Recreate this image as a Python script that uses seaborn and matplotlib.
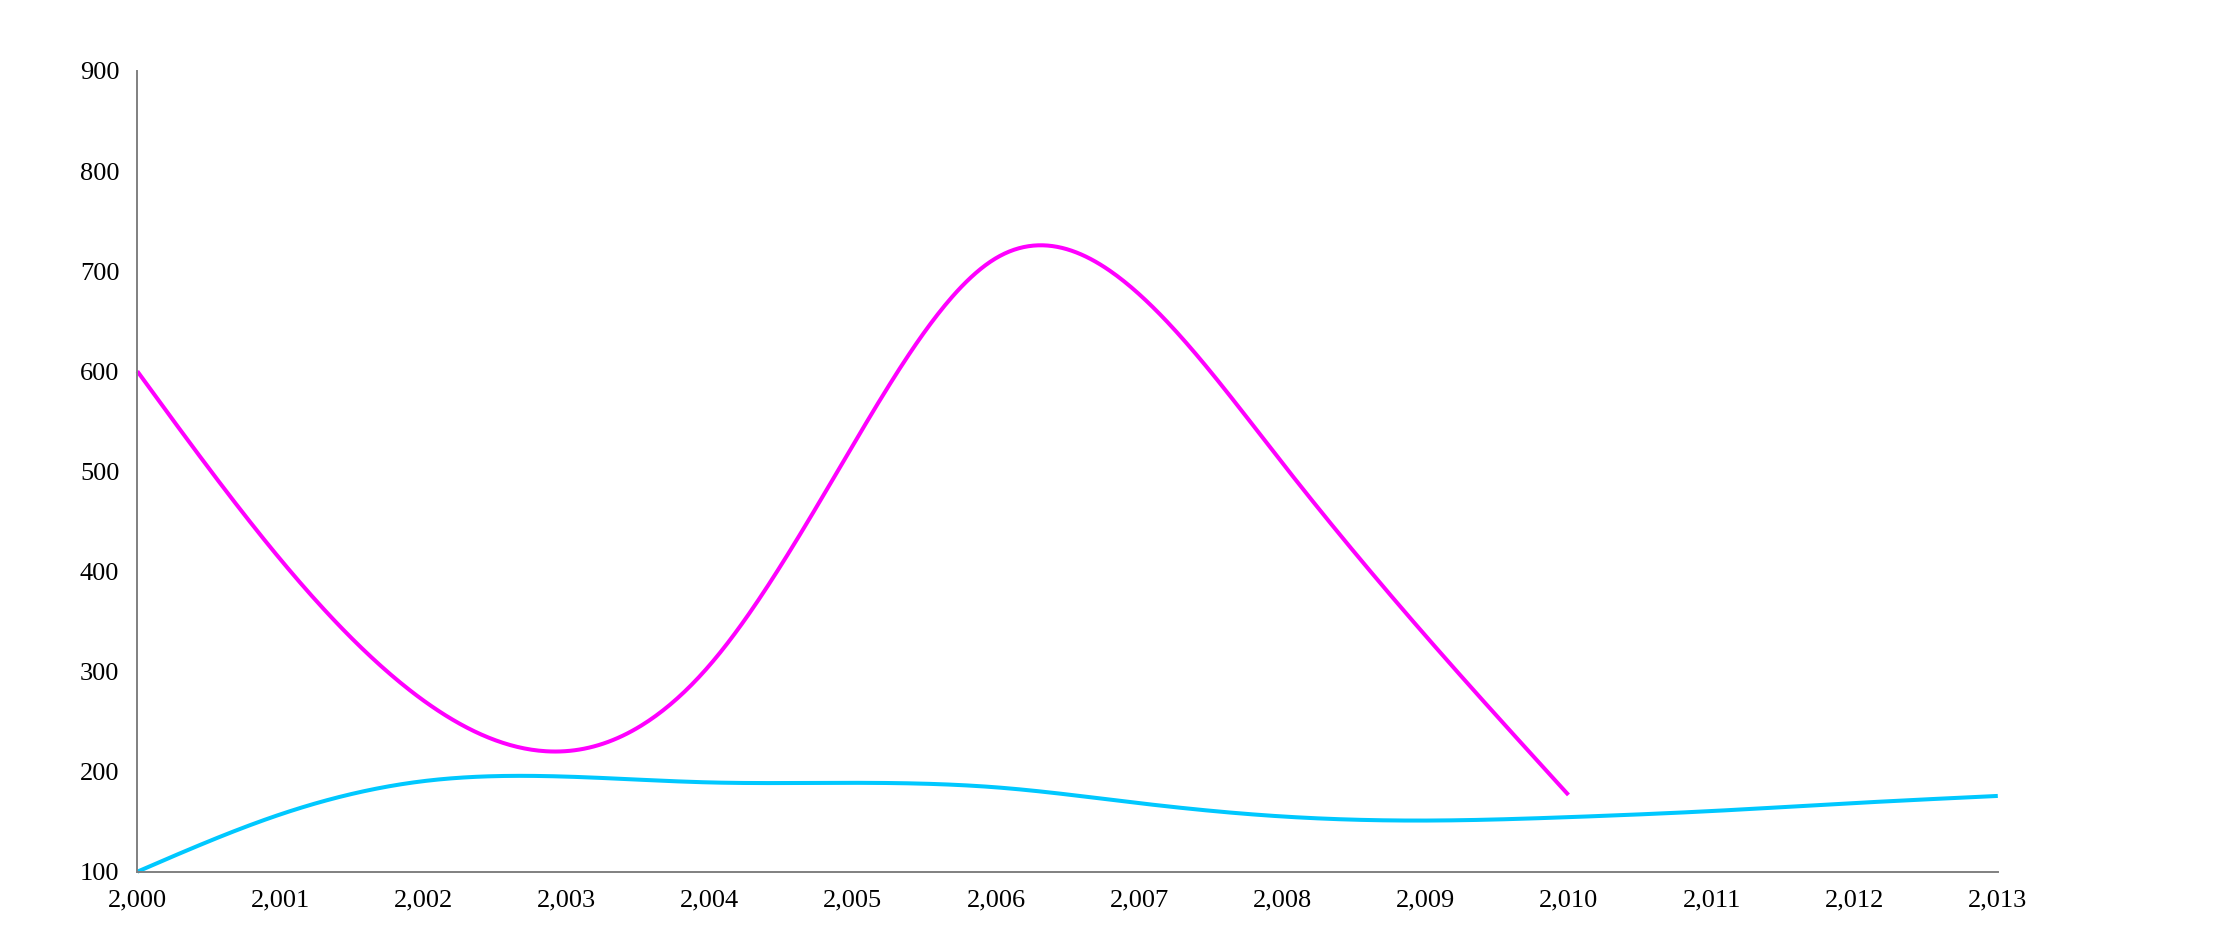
import numpy as np
import pandas as pd
import matplotlib
matplotlib.use("Agg")
import matplotlib.pyplot as plt
import seaborn as sns
from matplotlib.ticker import FixedLocator, FuncFormatter

# yearly values
pink_years = [2000, 2001, 2002, 2003, 2004, 2005, 2006, 2007, 2008, 2009, 2010]
pink_values = [600, 412, 271, 220.5, 306.5, 526, 713, 677, 508.5, 336, 176.7]

cyan_years = [2000, 2001, 2002, 2003, 2004, 2005, 2006, 2007, 2008, 2009, 2010,
              2011, 2012, 2013]
cyan_values = [100, 157.3, 190.5, 195, 189.2, 188.8, 184.3, 168.5, 155.2, 151.1,
               154.5, 160.6, 168.6, 175.7]

x_ticks = list(range(2000, 2014))
y_ticks = [100, 200, 300, 400, 500, 600, 700, 800, 900]


def smooth(x, y, n=600):
    # natural cubic spline, only used to draw the curve smoothly
    x = np.asarray(x, float)
    y = np.asarray(y, float)
    h = np.diff(x)
    k = len(x)
    A = np.zeros((k, k))
    r = np.zeros(k)
    A[0, 0] = A[-1, -1] = 1
    for i in range(1, k - 1):
        A[i, i - 1] = h[i - 1]
        A[i, i] = 2 * (h[i - 1] + h[i])
        A[i, i + 1] = h[i]
        r[i] = 3 * ((y[i + 1] - y[i]) / h[i] - (y[i] - y[i - 1]) / h[i - 1])
    c = np.linalg.solve(A, r)
    b = (y[1:] - y[:-1]) / h - h * (2 * c[:-1] + c[1:]) / 3
    d = (c[1:] - c[:-1]) / (3 * h)
    xs = np.linspace(x[0], x[-1], n)
    idx = np.clip(np.searchsorted(x, xs, side="right") - 1, 0, k - 2)
    dx = xs - x[idx]
    ys = y[idx] + b[idx] * dx + c[idx] * dx ** 2 + d[idx] * dx ** 3
    return xs, ys


px, py = smooth(pink_years, pink_values)
cx, cy = smooth(cyan_years, cyan_values)
df = pd.concat([
    pd.DataFrame({"year": px, "value": py, "series": "pink"}),
    pd.DataFrame({"year": cx, "value": cy, "series": "cyan"}),
])

sns.set_style("white")
plt.rcParams["font.family"] = ["Liberation Serif", "DejaVu Serif"]

fig = plt.figure(figsize=(22.22, 9.34), dpi=100)
ax = fig.add_axes([0.0618, 0.0667, 0.8373, 0.8573])

sns.lineplot(data=df, x="year", y="value", hue="series",
             palette={"pink": "#ff00ff", "cyan": "#00c8ff"},
             hue_order=["cyan", "pink"], sort=False, estimator=None,
             linewidth=2.9, legend=False, ax=ax)
for line in ax.lines:
    line.set_clip_on(False)
    line.set_solid_capstyle("butt")

ax.set_xlim(2000, 2013)
ax.set_ylim(100, 900)
ax.set_xticks(x_ticks)
ax.set_yticks(y_ticks)
ax.xaxis.set_major_formatter(FuncFormatter(lambda v, p: f"{int(round(v)):,}"))
ax.set_xlabel("")
ax.set_ylabel("")

for s in ["top", "right"]:
    ax.spines[s].set_visible(False)
for s in ["left", "bottom"]:
    ax.spines[s].set_color("#808080")
    ax.spines[s].set_linewidth(1.4)

# outer ticks at the ends of the domain only
ax.yaxis.set_minor_locator(FixedLocator([900]))
ax.xaxis.set_minor_locator(FixedLocator([2000, 2013]))
ax.tick_params(which="minor", length=8.6, width=1.4, color="#808080")
ax.tick_params(which="major", length=0, pad=13, labelsize=19, labelcolor="black")

fig.savefig("out.png", dpi=100, facecolor="white")
